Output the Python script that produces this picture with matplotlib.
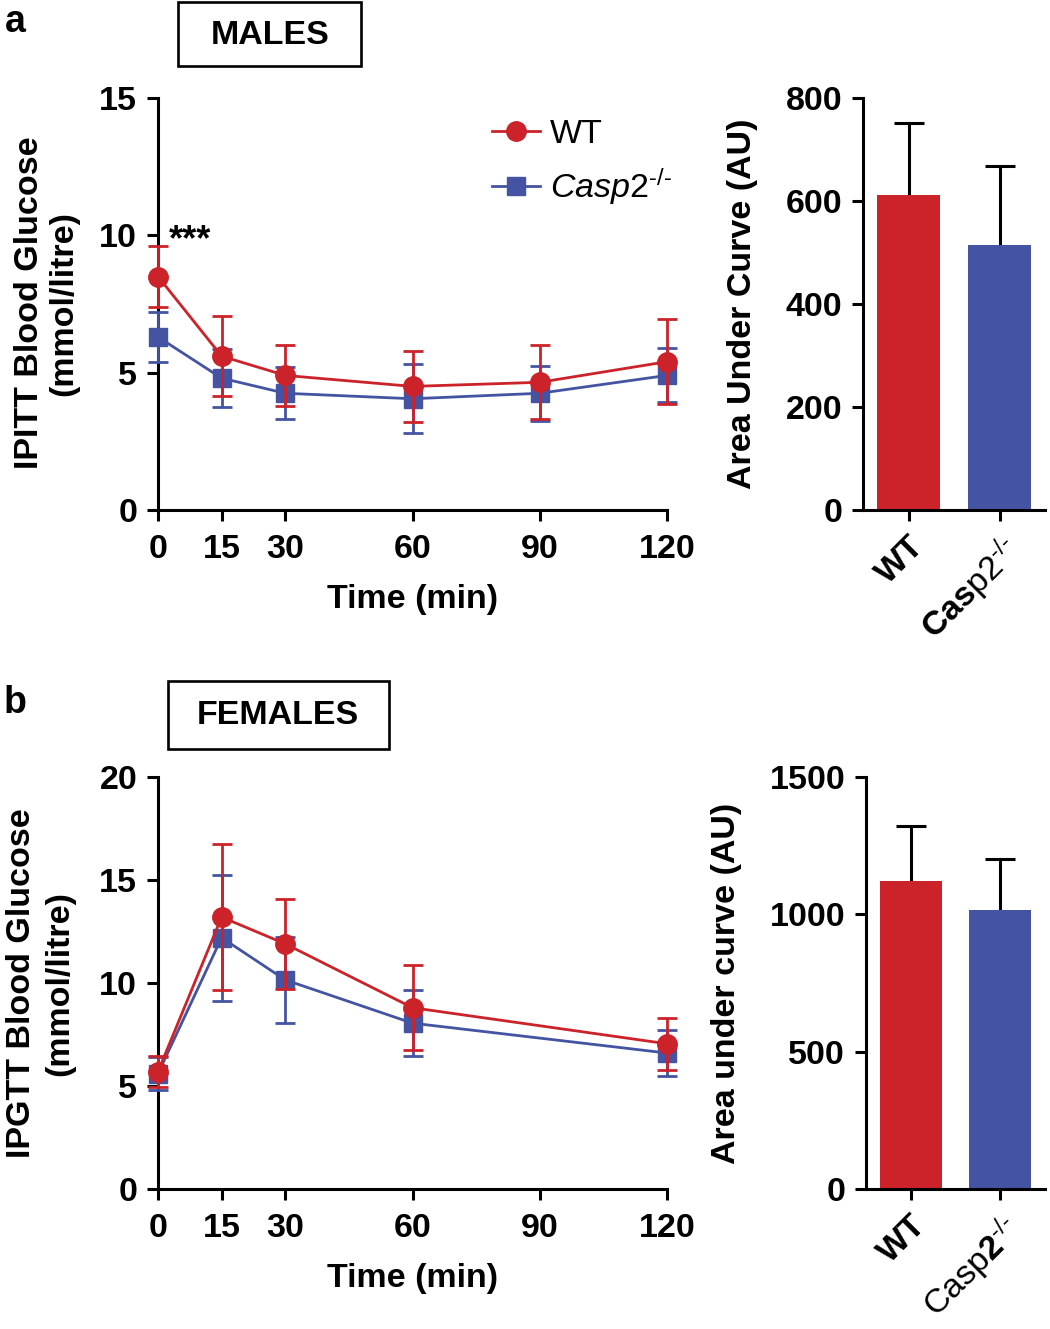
import matplotlib
matplotlib.use("Agg")
import matplotlib.pyplot as plt
from matplotlib.lines import Line2D
from matplotlib.patches import Rectangle
import numpy as np

plt.rcParams['font.family'] = ['Liberation Sans', 'DejaVu Sans']
plt.rcParams['mathtext.fontset'] = 'custom'
plt.rcParams['mathtext.rm'] = 'Liberation Sans'
plt.rcParams['mathtext.it'] = 'Liberation Sans:italic'
plt.rcParams['mathtext.bf'] = 'Liberation Sans:bold'

RED = '#cc2229'
BLUE = '#4454a2'

# time points (min)
time_a = [0, 15, 30, 60, 90, 120]
time_b = [0, 15, 30, 60, 120]

# panel a, IPITT males
wt_itt = [8.5, 5.6, 4.9, 4.5, 4.65, 5.4]
wt_itt_sd = [1.1, 1.45, 1.1, 1.3, 1.35, 1.55]
ko_itt = [6.3, 4.8, 4.25, 4.05, 4.25, 4.9]
ko_itt_sd = [0.9, 1.05, 0.95, 1.25, 1.0, 0.98]
auc_a = [611, 514]
auc_a_sd = [141, 153]

# panel b, IPGTT females
wt_gtt = [5.7, 13.2, 11.9, 8.8, 7.05]
wt_gtt_sd = [0.75, 3.55, 2.2, 2.05, 1.25]
ko_gtt = [5.6, 12.2, 10.15, 8.05, 6.6]
ko_gtt_sd = [0.8, 3.05, 2.1, 1.6, 1.1]
auc_b = [1121, 1016]
auc_b_sd = [202, 184]

KO = r'$\mathit{Casp2}^{\mathit{‐/‐}}$'

W, H = 1050, 1329
fig = plt.figure(figsize=(W / 100, H / 100), dpi=100)


def px_axes(left, top, right, bottom):
    return fig.add_axes([left / W, 1 - bottom / H, (right - left) / W, (bottom - top) / H])


def ftext(x, y, s, **kw):
    fig.text(x / W, 1 - y / H, s, **kw)


def fbox(x0, y0, x1, y1):
    fig.patches.append(Rectangle((x0 / W, 1 - y1 / H), (x1 - x0) / W, (y1 - y0) / H,
                                 transform=fig.transFigure, fill=False, ec='black', lw=1.9))


FS = 24.5
LW = 2.2


def style(ax):
    for s in ['top', 'right']:
        ax.spines[s].set_visible(False)
    for s in ['left', 'bottom']:
        ax.spines[s].set_linewidth(LW)
    ax.tick_params(width=LW, length=8, labelsize=FS, pad=7)
    ax.tick_params(axis='x', pad=9)
    for lab in ax.get_xticklabels() + ax.get_yticklabels():
        lab.set_fontweight('bold')


def line_panel(ax, t, wt, wt_sd, ko, ko_sd, ymax, ystep):
    ax.errorbar(t, wt, yerr=wt_sd, color=RED, marker='o', ms=14, lw=2, elinewidth=2,
                capsize=7, capthick=2, clip_on=False, zorder=4)
    ax.errorbar(t, ko, yerr=ko_sd, color=BLUE, marker='s', ms=13, lw=2, elinewidth=2,
                capsize=7, capthick=2, clip_on=False, zorder=3)
    ax.set_xlim(0, 120)
    ax.set_ylim(0, ymax)
    ax.set_xticks([0, 15, 30, 60, 90, 120])
    ax.set_yticks(np.arange(0, ymax + 1, ystep))
    style(ax)
    ax.set_xlabel('Time (min)', fontsize=FS, fontweight='bold', labelpad=14)


def bar_panel(ax, vals, sd, ymax, ystep, labels):
    ax.bar([0, 1], vals, width=0.69, color=[RED, BLUE], zorder=2)
    eb = ax.errorbar([0, 1], vals, yerr=[[0, 0], sd], fmt='none', ecolor='black',
                     elinewidth=LW, capsize=11, capthick=LW, zorder=1)
    # only the upper cap is kept
    eb[1][0].set_visible(False)
    ax.set_xlim(-0.5, 1.5)
    ax.set_ylim(0, ymax)
    ax.set_yticks(np.arange(0, ymax + 1, ystep))
    ax.set_xticks([0, 1])
    ax.set_xticklabels(labels)
    style(ax)
    ax.tick_params(axis='x', pad=7)
    for lab in ax.get_xticklabels():
        lab.set_rotation(45)
        lab.set_ha('right')
        lab.set_va('top')
        lab.set_rotation_mode('anchor')


# ---- panel a ----
ax1 = px_axes(158, 98, 667, 510)
line_panel(ax1, time_a, wt_itt, wt_itt_sd, ko_itt, ko_itt_sd, 15, 5)
ax1.text(2.6, 9.45, '***', fontsize=26, fontweight='bold', va='baseline')
handles = [Line2D([], [], color=RED, marker='o', ms=14, lw=2),
           Line2D([], [], color=BLUE, marker='s', ms=13, lw=2)]
ax1.legend(handles, ['WT', KO], loc='upper left', bbox_to_anchor=(0.63, 0.983),
           frameon=False, fontsize=FS, handlelength=1.4, handletextpad=0.3,
           labelspacing=0.5, borderaxespad=0)

ax2 = px_axes(863, 98, 1045, 510)
bar_panel(ax2, auc_a, auc_a_sd, 800, 200,
          ['WT', r'$\mathbf{Cas}\mathrm{p2}^{\mathit{‐/‐}}$'])

ftext(15, 22, 'a', fontsize=27, fontweight='bold', ha='center', va='center')
fbox(178, 2, 361, 66)
ftext(270, 35, 'MALES', fontsize=FS, fontweight='bold', ha='center', va='center')
ftext(30, 303, 'IPITT Blood Glucose', fontsize=FS, fontweight='bold', rotation=90,
      ha='center', va='center')
ftext(64, 303, '(mmol/litre)', fontsize=FS, fontweight='bold', rotation=90,
      ha='center', va='center')
ftext(742, 304, 'Area Under Curve (AU)', fontsize=FS, fontweight='bold', rotation=90,
      ha='center', va='center')

# ---- panel b ----
ax3 = px_axes(158, 777, 667, 1189)
line_panel(ax3, time_b, wt_gtt, wt_gtt_sd, ko_gtt, ko_gtt_sd, 20, 5)

ax4 = px_axes(866, 777, 1045, 1189)
bar_panel(ax4, auc_b, auc_b_sd, 1500, 500,
          ['WT', r'$\mathrm{Casp}\mathbf{2}^{\mathit{‐/‐}}$'])

ftext(15, 703, 'b', fontsize=27, fontweight='bold', ha='center', va='center')
fbox(168, 681, 389, 749)
ftext(278, 715, 'FEMALES', fontsize=FS, fontweight='bold', ha='center', va='center')
ftext(22, 983, 'IPGTT Blood Glucose', fontsize=FS, fontweight='bold', rotation=90,
      ha='center', va='center')
ftext(60, 983, '(mmol/litre)', fontsize=FS, fontweight='bold', rotation=90,
      ha='center', va='center')
ftext(726, 983, 'Area under curve (AU)', fontsize=FS, fontweight='bold', rotation=90,
      ha='center', va='center')

fig.savefig('out.png', dpi=100)
